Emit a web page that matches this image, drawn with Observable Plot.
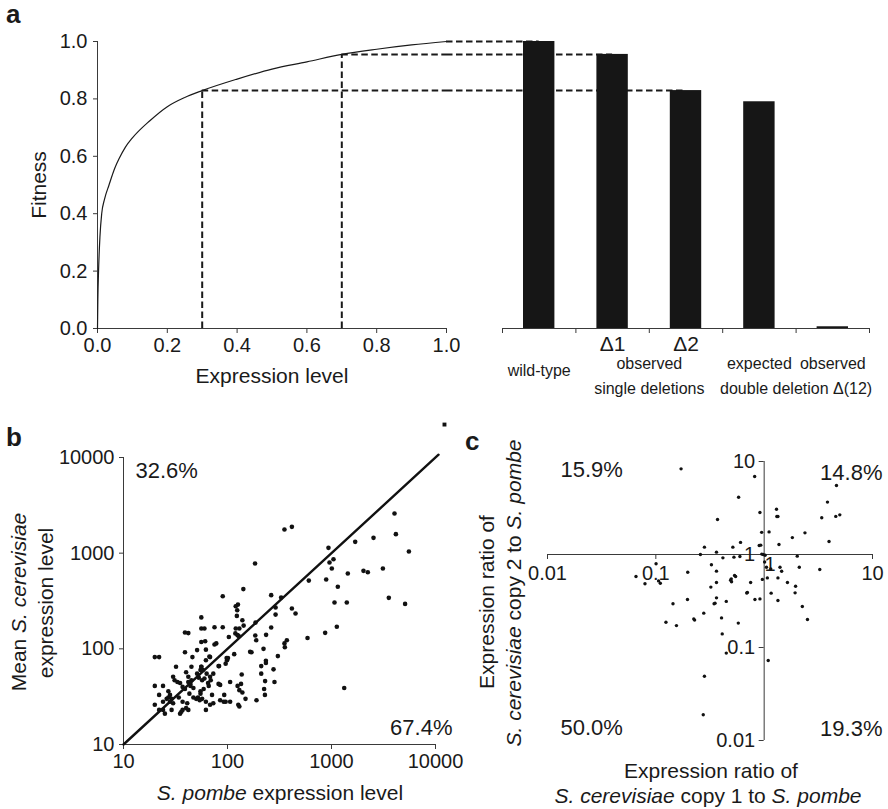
<!DOCTYPE html>
<html><head><meta charset="utf-8">
<script src="https://cdn.jsdelivr.net/npm/d3@7"></script>
<script src="https://cdn.jsdelivr.net/npm/@observablehq/plot@0.6"></script>
<style>
body{margin:0;background:#fff;font-family:"Liberation Sans",Arial,sans-serif;color:#1a1a1a}
#fig{position:relative;width:888px;height:809px;overflow:hidden;background:#fff}
.lbl{position:absolute;white-space:nowrap;font-size:21px;line-height:1;transform:translate(-50%,-50%)}
.rot{transform:translate(-50%,-50%) rotate(-90deg)}
.pl{position:absolute;font-weight:bold;font-size:26px;line-height:1}
</style></head><body><div id="fig"></div><script>
// ---------- Panel a: fitness curve ----------
const exprLevel = [0,0.001,0.003,0.007,0.012,0.02,0.033,0.05,0.062,0.08,0.1,0.15,0.2,0.25,0.3,0.4,0.5,0.6,0.7,0.8,0.9,1.0];
const fitnessCurve = [0,0.1,0.2,0.32,0.40,0.45,0.50,0.56,0.592,0.632,0.664,0.724,0.773,0.805,0.829,0.869,0.904,0.929,0.955,0.973,0.988,1.0];
const aTicks = [0,0.2,0.4,0.6,0.8,1.0];
// ---------- Panel a: bars ----------
const barNames = ["wild-type","Δ1","Δ2","expected","observed"];
const barFitness = [1.0,0.955,0.829,0.79,0.006];
const barExpr = [1.0,0.7,0.3]; // expression levels of wild-type, Δ1, Δ2 on the curve
const groupTop = ["observed",""];
const groupBottom = ["single deletions","double deletion Δ(12)"];
const groupFrom = [1,3], groupTo = [2,4];
// ---------- Panel b ----------
const bx = [4036,4160,5550,2535,1690,935,957,1045,1007,2030,
  2235,3120,1435,1150,889,605,1069,1403,3557,5100,
  1125,869,588,1325,353,416,184,142,263,328,
  290,290,416,451,186,263,235,372,353,356,
  185,189,222,165,170,305,234,234,277,283,
  211,211,230,225,229,190,123,124,120,126,
  139,143,130,120,119,125,128,90,90,103,
  116,99,96,98,83,78,75,68,67,62,
  61,56,56,60,56,75,39,42,39,46,
  51,62,56,51,63,60,57,73,82,32,
  30,20,22,20,24,22,20,24,24,22,
  25,29,27,28,29,30,28,35,37,39,
  34,37,41,40,42,37,35,36,42,44,
  45,47,43,47,50,52,55,57,54,62,
  62,68,71,73,82,85,93,92,96,106,
  85,106,125,135,130,139,149,130,127,137,
  65,66,68,69,59,55,53,45,40,42,
  44,55,58,56,31,33,26,27,101];
const by = [2600,1580,1040,1445,1313,1137,798,865,692,653,
  632,692,612,445,531,517,305,305,341,295,
  170,147,130,39,1766,1884,780,421,364,344,
  270,228,264,234,188,167,140,123,114,104,
  138,123,100,93,92,84,75,71,61,45,
  66,55,46,38,33,29,221,253,279,290,
  199,175,163,163,145,139,136,168,355,133,
  88,76,70,80,66,114,111,82,83,76,
  120,118,163,163,213,168,148,146,92,82,
  97,98,65,55,55,49,47,55,66,65,
  51,82,82,41,41,33,26,28,23,23,
  21,23,36,33,30,27,28,44,40,38,
  31,28,27,24,23,23,21,22,45,43,
  47,39,34,31,30,31,34,30,29,23,
  28,26,33,27,43,42,33,28,28,28,
  29,45,41,43,37,35,30,25,26,54,
  44,41,51,47,38,36,50,65,57,51,
  41,60,60,65,47,45,30,31,80];
const bTicks = [10,100,1000,10000];
const diagX = [10,10700], diagY = [10,10700];
const strayX = [12200], strayY = [22100];
const bPercent = ["32.6%","67.4%"];
// ---------- Panel c ----------
const cx = [0.171,0.817,0.581,0.371,0.914,1.30,1.31,1.34,0.948,1.11,
  1.82,2.38,1.37,0.605,0.514,0.526,0.416,0.281,0.258,0.363,
  0.90,0.93,0.95,0.98,1.02,3.40,3.84,4.65,4.58,4.99,
  3.97,2.02,2.11,3.26,1.15,1.40,1.45,1.05,1.01,1.07,
  0.962,1.34,1.64,1.95,1.93,1.16,1.34,2.25,2.51,0.914,
  0.822,0.75,0.70,0.69,0.533,0.497,0.49,0.50,0.545,0.447,
  0.363,0.363,0.326,0.322,0.363,0.352,0.345,0.277,0.404,0.577,
  0.41,0.447,1.09,0.281,0.274,0.224,0.228,0.196,0.197,0.144,
  0.124,0.155,0.1005,0.106,0.110,0.0794,0.0656,0.597];
const cy = [8.34,6.9,4.13,2.38,2.83,3.07,2.56,2.56,1.73,1.75,
  1.52,1.71,1.28,1.35,1.20,0.936,0.92,1.20,1.0,1.06,
  1.25,1.26,1.01,1.0,0.98,2.48,3.66,5.52,2.57,2.67,
  1.38,0.96,0.73,0.69,0.70,0.73,0.66,0.73,0.83,0.56,
  0.54,0.56,0.50,0.456,0.387,0.384,0.32,0.276,0.20,0.333,
  0.328,0.50,0.39,0.385,0.594,0.547,0.53,0.51,0.58,0.313,
  0.50,0.662,0.775,0.446,0.342,0.30,0.295,0.234,0.208,0.183,
  0.140,0.087,0.0725,0.049,0.0189,0.203,0.197,0.328,0.645,0.295,
  0.187,0.172,0.794,0.52,0.49,0.484,0.58,0.95];
const cTicks = [0.01,0.1,1,10];
const cTickLabels = ["0.01","0.1","1","10"];
const cPercent = ["15.9%","14.8%","50.0%","19.3%"];

// ================= drawing =================
const fig = document.getElementById("fig");
const FONT = "'Liberation Sans', Arial, sans-serif";
const INK = "#1a1a1a", AXIS = "#3a3a3a";
const baseStyle = {fontFamily: FONT, fontSize: "20px", color: INK, background: "transparent"};
function place(svg, left, top, visible){ svg.style.position="absolute"; svg.style.left=left+"px"; svg.style.top=top+"px"; if(visible) svg.style.overflow="visible"; fig.appendChild(svg); }
function html(cls, text, x, y){ const d=document.createElement("div"); d.className=cls; d.innerHTML=text; d.style.left=x+"px"; d.style.top=y+"px"; fig.appendChild(d); }

const curve = exprLevel.map((x,i)=>({x, f: fitnessCurve[i]}));
const guides = barExpr.map((e,i)=>({expr:e, fit: barFitness[i], target:i}));
const DASH = "6.5,3.5";
const fmt1 = d3.format(".1f");

// left: curve
const A_W = 460, A_ML = 97, A_MR = 14, A_MT = 41, A_MB = 32, A_H = 360;
place(Plot.plot({
  width: A_W, height: A_H, marginLeft: A_ML, marginRight: A_MR, marginTop: A_MT, marginBottom: A_MB,
  style: baseStyle,
  x: {domain: [0,1]}, y: {domain: [0,1]},
  marks: [
    Plot.axisX({ticks: aTicks, tickFormat: fmt1, tickSize: 5, tickPadding: 4, label: null, stroke: AXIS, fontSize: 20}),
    Plot.axisY({ticks: aTicks, tickFormat: fmt1, tickSize: 4, tickPadding: 6, label: null, stroke: AXIS, fontSize: 20}),
    Plot.ruleX([0], {stroke: AXIS}),
    Plot.ruleY([0], {stroke: AXIS}),
    Plot.ruleX(guides.filter(d=>d.expr<1), {x: "expr", y1: 0, y2: "fit", stroke: INK, strokeWidth: 2, strokeDasharray: DASH}),
    Plot.ruleY(guides, {y: "fit", x1: "expr", x2: 1, stroke: INK, strokeWidth: 2, strokeDasharray: DASH}),
    Plot.line(curve, {x: "x", y: "f", curve: "monotone-x", stroke: INK, strokeWidth: 1.2})
  ]
}), 0, 0);

// right: bars
const B_LEFT = A_W - A_MR; // bar svg starts where x = 1.0 on the curve axis
const B_W = 888 - B_LEFT, B_ML = 56, B_MR = 19, B_H = 400, B_MB = B_H - (A_H - A_MB);
const bars = barNames.map((n,i)=>({name:n, v: barFitness[i], i}));
const groups = groupBottom.map((g,k)=>({top: groupTop[k], bottom: g, c: (groupFrom[k]+groupTo[k]+1)/2}));
place(Plot.plot({
  width: B_W, height: B_H, marginLeft: B_ML, marginRight: B_MR, marginTop: A_MT, marginBottom: B_MB,
  style: baseStyle,
  x: {domain: [0, barNames.length]}, y: {domain: [0,1], axis: null},
  marks: [
    Plot.ruleY(guides, {y: "fit", x2: d=>d.target+0.5, insetLeft: -B_ML, stroke: INK, strokeWidth: 2, strokeDasharray: DASH}),
    Plot.rectY(bars, {x1: "i", x2: d=>d.i+1, y: "v", insetLeft: 21, insetRight: 21, fill: "#161616"}),
    Plot.ruleY([0], {x1: 0, x2: barNames.length, stroke: AXIS}),
    Plot.axisX({ticks: d3.range(barNames.length+1), tickFormat: ()=>"", tickSize: 5, stroke: AXIS, label: null}),
    Plot.text(bars.filter(d=>d.name.startsWith("Δ")), {x: d=>d.i+0.5, y: 0, text: "name", dy: 16, fontSize: 21, fill: INK}),
    Plot.text(bars.filter(d=>d.i===0), {x: d=>d.i+0.5, y: 0, text: "name", dy: 42, fontSize: 16, fill: INK}),
    Plot.text(bars.filter(d=>d.i>=3), {x: d=>d.i+0.5, y: 0, text: "name", dy: 35, fontSize: 16, fill: INK}),
    Plot.text(groups, {x: "c", y: 0, text: "top", dy: 35, fontSize: 16, fill: INK}),
    Plot.text(groups, {x: "c", y: 0, text: "bottom", dy: 60, fontSize: 16, fill: INK})
  ]
}), B_LEFT, 0, true);

// Panel b
const bPts = bx.map((x,i)=>({x, y: by[i]}));
const diag = diagX.map((x,i)=>({x, y: diagY[i]}));
const stray = strayX.map((x,i)=>({x, y: strayY[i]}));
place(Plot.plot({
  width: 460, height: 409, marginLeft: 123, marginRight: 25, marginTop: 57, marginBottom: 65,
  style: baseStyle,
  x: {type: "log", domain: [10,10000]}, y: {type: "log", domain: [10,10000]},
  marks: [
    Plot.axisX({ticks: bTicks, tickFormat: d=>String(d), tickSize: 5, tickPadding: 4, label: null, stroke: AXIS, fontSize: 20}),
    Plot.axisY({ticks: bTicks, tickFormat: d=>String(d), tickSize: 4, tickPadding: 5, label: null, stroke: AXIS, fontSize: 20}),
    Plot.ruleX([10], {stroke: AXIS}),
    Plot.ruleY([10], {stroke: AXIS}),
    Plot.dot(bPts, {x: "x", y: "y", r: 2.3, fill: "#111", stroke: "none"}),
    Plot.line(diag, {x: "x", y: "y", stroke: "#111", strokeWidth: 2.4}),
    Plot.dot(stray, {x: "x", y: "y", symbol: "square", r: 2.2, fill: "#111", stroke: "none"}),
    Plot.text([bPercent[0]], {frameAnchor: "top-left", dx: 12, dy: 5, textAnchor: "start", fontSize: 22, fill: INK}),
    Plot.text([bPercent[1]], {frameAnchor: "bottom-right", dx: 17, dy: -10, textAnchor: "end", fontSize: 22, fill: INK})
  ]
}), 0, 400, true);

// Panel c
const cPts = cx.map((x,i)=>({x, y: cy[i]}));
const cT = cTicks.map((t,i)=>({t, s: cTickLabels[i]}));
place(Plot.plot({
  width: 428, height: 409, marginLeft: 87, marginRight: 16, marginTop: 61, marginBottom: 69,
  style: baseStyle,
  x: {type: "log", domain: [0.01,10], axis: null}, y: {type: "log", domain: [0.01,10], axis: null},
  marks: [
    Plot.ruleY([1], {x1: 0.01, x2: 10, stroke: AXIS}),
    Plot.ruleX([1], {y1: 0.01, y2: 10, stroke: AXIS}),
    Plot.ruleX(cT.filter(d=>d.t!==1), {x: "t", y1: 1, y2: 1, insetBottom: -5, stroke: AXIS}),
    Plot.ruleY(cT.filter(d=>d.t!==1), {y: "t", x1: 1, x2: 1, insetLeft: -5, stroke: AXIS}),
    Plot.text(cT.filter(d=>d.t!==1), {x: "t", y: 1, text: "s", dy: 19, fontSize: 20, fill: INK}),
    Plot.text(cT.filter(d=>d.t===1), {x: "t", y: 1, text: "s", dy: 10, dx: 6, fontSize: 20, fill: INK}),
    Plot.text(cT, {x: 1, y: "t", text: "s", dx: -9, textAnchor: "end", fontSize: 20, fill: INK}),
    Plot.dot(cPts, {x: "x", y: "y", r: 1.7, fill: "#111", stroke: "none"}),
    Plot.text([cPercent[0]], {frameAnchor: "top-left", dx: 13, dy: 0, textAnchor: "start", fontSize: 22, fill: INK}),
    Plot.text([cPercent[1]], {frameAnchor: "top-right", dx: 10, dy: 3, textAnchor: "end", fontSize: 22, fill: INK}),
    Plot.text([cPercent[2]], {frameAnchor: "bottom-left", dx: 13, dy: -6, textAnchor: "start", fontSize: 22, fill: INK}),
    Plot.text([cPercent[3]], {frameAnchor: "bottom-right", dx: 10, dy: -5, textAnchor: "end", fontSize: 22, fill: INK})
  ]
}), 460, 400);

// titles and labels
html("pl", "a", 6, 1);
html("pl", "b", 6, 424);
html("pl", "c", 465, 428);
html("lbl rot", "Fitness", 38, 185);
html("lbl", "Expression level", 272, 375);
html("lbl rot", "Mean <i>S. cerevisiae</i>", 18, 602);
html("lbl rot", "expression level", 45, 603);
html("lbl", "<i>S. pombe</i> expression level", 280, 792);
html("lbl rot", "Expression ratio of", 486, 602);
html("lbl rot", "<i>S. cerevisiae</i> copy 2 to <i>S. pombe</i>", 513, 593);
html("lbl", "Expression ratio of", 711, 770);
html("lbl", "<i>S. cerevisiae</i> copy 1 to <i>S. pombe</i>", 708, 795);
</script></body></html>
